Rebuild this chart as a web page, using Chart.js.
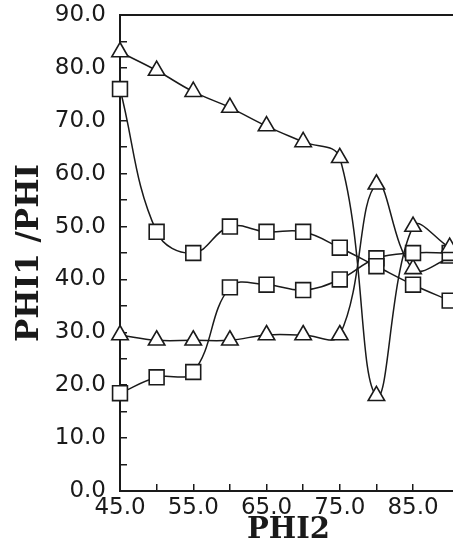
<!DOCTYPE html>
<html>
<head>
<meta charset="utf-8">
<script src="https://cdn.jsdelivr.net/npm/chart.js@4/dist/chart.umd.min.js"></script>
<style>
	html, body { margin: 0; padding: 0; background: #fff; overflow: hidden; }
	#wrap { width: 457px; height: 548px; position: relative; }
</style>
</head>
<body>
<div id="wrap"><canvas id="myChart"></canvas></div>
<script>
	'use strict'

	// PHI2 values and the four measured curves
	const phi2 = [45, 50, 55, 60, 65, 70, 75, 80, 85, 90];
	const triUpper = [83, 79.5, 75.5, 72.5, 69, 66, 63, 18, 50, 46];
	const triLower = [29.5, 28.5, 28.5, 28.5, 29.5, 29.5, 29.5, 58, 42, 44];
	const sqUpper = [76, 49, 45, 50, 49, 49, 46, 42.5, 39, 36];
	const sqLower = [18.5, 21.5, 22.5, 38.5, 39, 38, 40, 44, 45, 45];

	const xTickLabels = [45, 55, 65, 75, 85];
	const yTickLabels = [0, 10, 20, 30, 40, 50, 60, 70, 80, 90];

	const ink = '#1a1a1a';
	const tickFont = { family: 'DejaVu Sans', size: 23 };
	const titleFont = { family: 'DejaVu Serif', size: 29, weight: 'bold' };

	function points(values) {
		return phi2.map((x, i) => ({ x: x, y: values[i] }));
	}

	function series(values, style, radius) {
		return {
			data: points(values),
			borderColor: ink,
			borderWidth: 1.5,
			pointStyle: style,
			pointRadius: radius,
			pointBorderWidth: 1.6,
			pointBorderColor: ink,
			pointBackgroundColor: '#fff',
			tension: 0.4,
			clip: false
		};
	}

	// top edge of the frame
	const frameTop = {
		id: 'frameTop',
		afterDraw(chart) {
			const { ctx, chartArea } = chart;
			ctx.save();
			ctx.strokeStyle = ink;
			ctx.lineWidth = 2;
			ctx.beginPath();
			ctx.moveTo(chartArea.left, chartArea.top);
			ctx.lineTo(chartArea.right, chartArea.top);
			ctx.stroke();
			ctx.restore();
		}
	};

	new Chart(document.getElementById('myChart'), {
		type: 'line',
		data: {
			datasets: [
				series(triUpper, 'triangle', 9.5),
				series(sqUpper, 'rect', 10.5),
				series(sqLower, 'rect', 10.5),
				series(triLower, 'triangle', 9.5)
			]
		},
		plugins: [frameTop],
		options: {
			responsive: true,
			maintainAspectRatio: false,
			animation: false,
			layout: { autoPadding: false, padding: { top: 15, right: 0, bottom: 0, left: 0 } },
			plugins: {
				legend: { display: false },
				tooltip: { enabled: false }
			},
			scales: {
				x: {
					type: 'linear',
					min: 45,
					max: 91,
					afterFit: (s) => {
						s.height = 57;
						s.paddingLeft = 0;
						s.paddingRight = 0;
					},
					border: { color: ink, width: 2 },
					grid: { drawOnChartArea: false, tickLength: -7, color: ink, lineWidth: 1.5 },
					ticks: {
						stepSize: 5,
						autoSkip: false,
						maxRotation: 0,
						padding: 10,
						color: ink,
						font: tickFont,
						callback: (v) => xTickLabels.includes(v) ? v.toFixed(1) : ''
					},
					title: {
						display: true,
						text: 'PHI2',
						color: ink,
						font: titleFont,
						padding: { top: 0, bottom: 0 }
					}
				},
				y: {
					min: 0,
					max: 90,
					afterFit: (s) => {
						s.width = 120;
						s.paddingTop = 0;
						s.paddingBottom = 0;
					},
					border: { color: ink, width: 2 },
					grid: { drawOnChartArea: false, tickLength: -7, color: ink, lineWidth: 1.5 },
					ticks: {
						stepSize: 5,
						autoSkip: false,
						padding: 21,
						color: ink,
						font: tickFont,
						callback: (v) => yTickLabels.includes(v) ? v.toFixed(1) : ''
					},
					title: {
						display: true,
						text: 'PHI1 /PHI',
						color: ink,
						font: { family: 'DejaVu Serif', size: 31, weight: 'bold' },
						padding: { top: 11, bottom: 0 }
					}
				}
			}
		}
	});
</script>
</body>
</html>
